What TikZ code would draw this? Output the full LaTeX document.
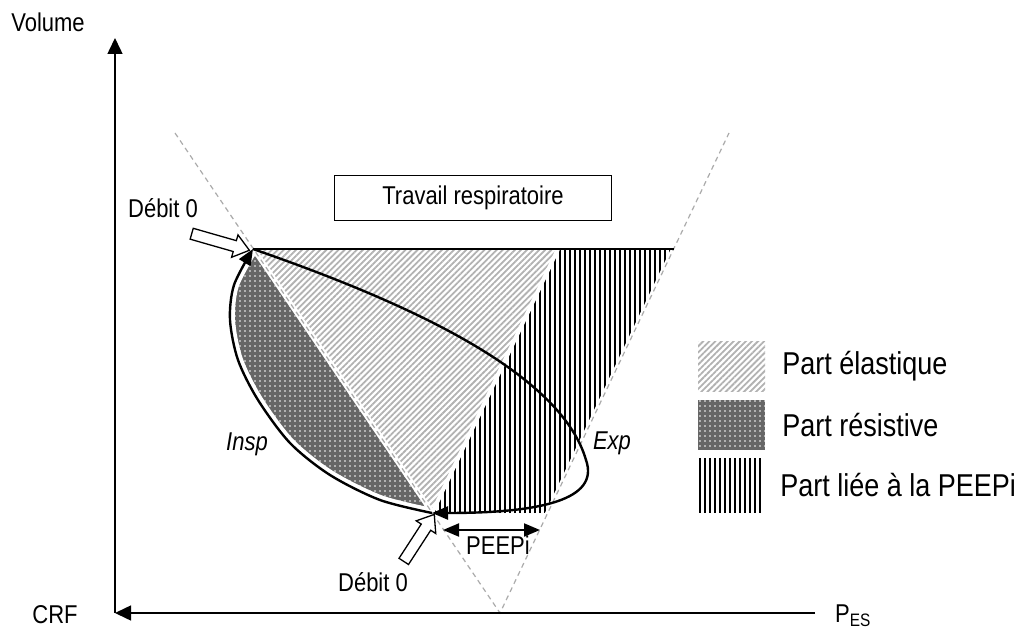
\documentclass[tikz,border=0pt]{standalone}
\usepackage{fontspec}
\setmainfont{Liberation Sans}
\usepackage{graphicx}
\usetikzlibrary{arrows.meta,positioning,patterns.meta,shapes.arrows}
\newcommand{\tall}[1]{\scalebox{1}[1.17]{#1}}

\begin{document}
\begin{tikzpicture}[
  x=1pt, y=-1pt,
  node distance=15pt,
  lbl/.style={font=\fontsize{22}{26}\selectfont, inner sep=0pt},
  leg/.style={font=\fontsize{27}{32}\selectfont, inner sep=2pt},
  axisline/.style={line width=1.5pt, -{Triangle[length=16pt,width=15pt]}},
  loopline/.style={line width=2.4pt, -{Triangle[length=16pt,width=13pt]}},
  guide/.style={draw=black!33, line width=1.2pt, dash pattern=on 5pt off 4pt},
  halo/.style={draw=white, line width=5pt},
  elast/.style={pattern={Lines[angle=45,distance=4.3pt,line width=1.8pt]}, pattern color=black!30},
  resist/.style={fill=black!60, postaction={pattern={Dots[radius=0.9pt,distance=5pt]}, pattern color=white}},
  peep/.style={pattern={Lines[angle=90,distance=5pt,line width=1.4pt]}, pattern color=black},
  hollow/.style={single arrow, draw, fill=white, line width=1.3pt, minimum height=60pt,
    inner xsep=0pt, inner ysep=5pt, single arrow head extend=6pt, single arrow tip angle=75},
  swatch/.style={minimum width=67pt, minimum height=50pt, inner sep=0pt}
]
\useasboundingbox (0,0) rectangle (1023,631);

% axes and the V of the compliance lines
\coordinate (origin) at (115,613);
\coordinate (yend) at (115,38);
\coordinate (xend) at (815,613);
\coordinate (apex) at (500,613);
\coordinate (ltop) at (175,133);
\coordinate (rtop) at (729,133);
% loop corners
\coordinate (top) at (253,249);
\coordinate (bot) at (432,513);
\coordinate (mid) at (558,249);
\coordinate (rcut) at (674,249);
\coordinate (rlow) at (548,513);
\coordinate (pl) at (443,530);
\coordinate (pr) at (540,530);

% areas
\fill[resist] plot[smooth] coordinates {(bot) (380,500) (330,475) (290,443) (258,400) (238,360) (230,320) (234,285) (top)} -- cycle;
\fill[elast] (top) -- (mid) -- (bot) -- cycle;
\fill[peep] (mid) -- (rcut) -- (rlow) -- (bot) -- cycle;

\draw[halo] (ltop) -- (apex) -- (rtop);
\draw[halo, line width=4pt] (bot) -- (mid);
\draw[halo, line width=10pt] plot[smooth] coordinates {(bot) (380,500) (330,475) (290,443) (258,400) (238,360) (230,320) (234,285) (top)};
\draw[guide] (ltop) -- (apex) -- (rtop);

% loop
\draw[line width=2.5pt] (top) -- (rcut);
\draw[loopline] plot[smooth] coordinates {(bot) (380,500) (330,475) (290,443) (258,400) (238,360) (230,320) (234,285) (top)};
\draw[loopline] (top) .. controls (400,300) and (560,370) .. (586,460) .. controls (600,500) and (540,513) .. (bot);
\draw[line width=2pt, {Triangle[length=16pt,width=13pt]}-{Triangle[length=16pt,width=13pt]}] (pl) -- (pr);

\draw[axisline] (origin) -- (yend);
\draw[axisline] (xend) -- (origin);

% labels
\node[lbl] (volume) at (48,22) {\tall{Volume}};
\node[lbl] (crf) at (55,615) {\tall{CRF}};
\node[lbl, anchor=base west] (pes) at (835,622) {\tall{P\textsubscript{ES}}};
\node[lbl, draw, line width=1.8pt, minimum width=277pt, minimum height=45pt] (travail) at (473,198) {\tall{Travail respiratoire}};
\node[lbl] (debtop) at (163,208) {\tall{Débit 0}};
\node[hollow, rotate=-16] (arrtop) at (217,241) {};
\node[lbl] (debbot) at (373,582) {\tall{Débit 0}};
\node[hollow, rotate=57, minimum height=56pt] (arrbot) at (417,541) {};
\node[lbl, font=\fontsize{22}{26}\selectfont\itshape] (insp) at (247,444) {\tall{Insp}};
\node[lbl, font=\fontsize{22}{26}\selectfont\itshape] (exp) at (612,443) {\tall{Exp}};
\node[lbl] (peepi) at (498,545) {\tall{PEEPi}};

% legend
\node[swatch, elast] (swel) at (731.5,366) {};
\node[swatch, resist] (swres) at (731.5,425) {};
\node[swatch, peep, minimum width=65pt, minimum height=54pt] (swpeep) at (730.5,485) {};
\node[leg, right=of swel] (lel) {\tall{Part élastique}};
\node[leg, right=of swres] (lres) {\tall{Part résistive}};
\node[leg, right=of swpeep] (lpeep) {\tall{Part liée à la PEEPi}};
\end{tikzpicture}
\end{document}
